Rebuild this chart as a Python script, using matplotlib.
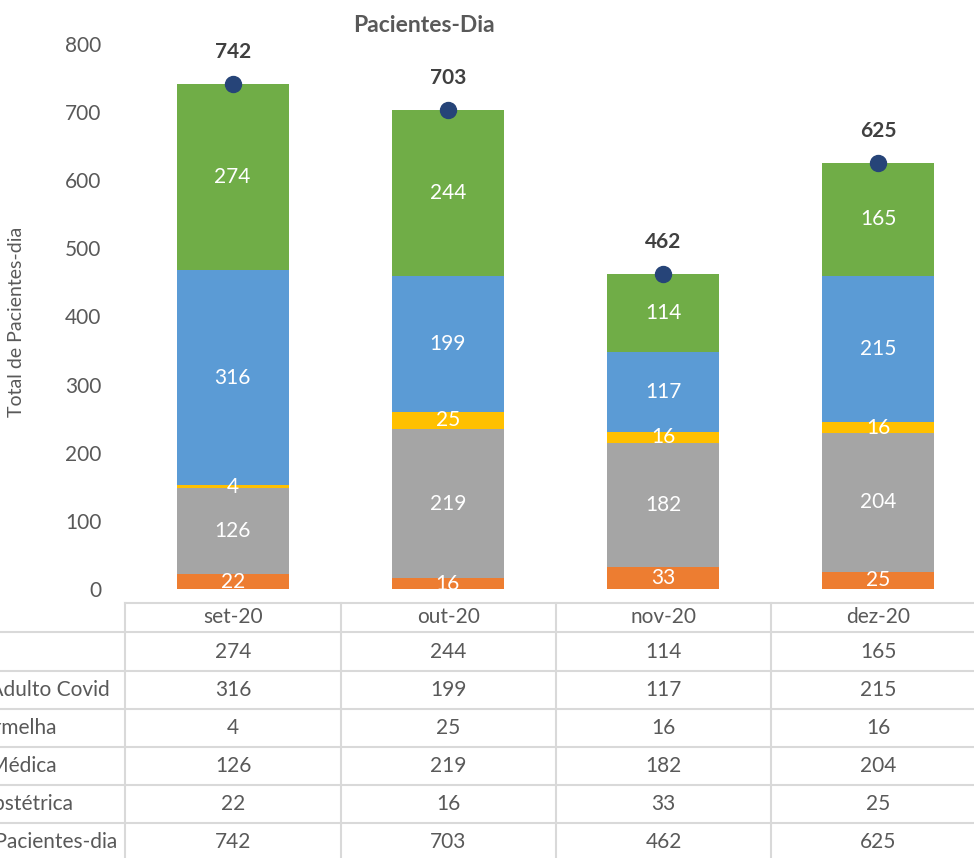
import numpy as np
import matplotlib.pyplot as plt
from matplotlib.lines import Line2D

# monthly patient-days by sector, stacked from bottom to top
months = ["set-20", "out-20", "nov-20", "dez-20"]
obstetrica = [22, 16, 33, 25]
medica = [126, 219, 182, 204]
vermelha = [4, 25, 16, 16]
enf_covid = [316, 199, 117, 215]
uti_covid = [274, 244, 114, 165]
totals = [742, 703, 462, 625]

series = [
    ("Clínica Obstétrica", obstetrica, "#ED7D31"),
    ("Clínica Médica", medica, "#A5A5A5"),
    ("Sala Vermelha", vermelha, "#FFC000"),
    ("Enfermaria Adulto Covid", enf_covid, "#5B9BD5"),
    ("UTI Covid", uti_covid, "#70AD47"),
]
row_labels = ["UTI Covid", "Enfermaria Adulto Covid", "Sala Vermelha",
              "Clínica Médica", "Clínica Obstétrica", "Total de Pacientes-dia"]
row_values = [uti_covid, enf_covid, vermelha, medica, obstetrica, totals]

plt.rcParams['font.family'] = ['Lato', 'DejaVu Sans']
txt = "#595959"
W, H = 974, 858

fig = plt.figure(figsize=(W / 100, H / 100), dpi=100)

def fx(px):
    return px / W

def fy(py):
    return 1 - py / H

# plot area spans the table columns (right column runs past the edge)
ax = fig.add_axes([fx(125), fy(589), fx(986) - fx(125), fy(44) - fy(589)])
x = np.arange(len(months))
bottom = np.zeros(len(months))
for name, vals, col in series:
    ax.bar(x, vals, 0.52, bottom=bottom, color=col, label=name)
    for xi, b, v in zip(x, bottom, vals):
        ax.text(xi, b + v / 2, str(v), ha="center", va="center",
                color="white", fontsize=15, clip_on=True)
    bottom += np.array(vals)

ax.plot(x, totals, "o", color="#264478", markersize=11.5, zorder=5)
for xi, t in zip(x, totals):
    ax.annotate(str(t), (xi, t), xytext=(0, 23), textcoords="offset points",
                ha="center", va="center", fontsize=15, fontweight="bold",
                color="#404040")

ax.set_xlim(-0.5, 3.5)
ax.set_ylim(0, 800)
ax.set_yticks(range(0, 801, 100))
ax.set_xticks([])
ax.tick_params(axis="y", length=0, pad=17, labelsize=15, labelcolor=txt)
for s in ax.spines.values():
    s.set_visible(False)

fig.text(fx(424), fy(25), "Pacientes-Dia", ha="center", va="center",
         fontsize=16.5, fontweight="bold", color=txt)
fig.text(fx(17), fy(322), "Total de Pacientes-dia", rotation=90,
         ha="center", va="center", fontsize=14, color=txt)

# data table below the plot
grid = "#D9D9D9"
col_edges = [125, 341, 556, 771, 986]
col_centers = [(a + b) / 2 for a, b in zip(col_edges[:-1], col_edges[1:])]
hlines = [632, 671, 709, 747, 785, 823, 861]

def line(x0, x1, y0, y1):
    fig.add_artist(Line2D([fx(x0), fx(x1)], [fy(y0), fy(y1)], color=grid, lw=1.5))

line(125, 990, 603, 603)
for yy in hlines:
    line(-5, 990, yy, yy)
for xx in col_edges:
    line(xx, xx, 603, 870)

for cx, m in zip(col_centers, months):
    fig.text(fx(cx), fy(617), m, ha="center", va="center", fontsize=15, color=txt)

# row labels: the chart is cropped on the left, so only their ends show
label_ends = [-8, 110, 57, 57, 73, 117]
row_centers = [(a + b) / 2 for a, b in zip(hlines[:-1], hlines[1:])]
for yc, lab, vals, xe in zip(row_centers, row_labels, row_values, label_ends):
    fig.text(fx(xe), fy(yc), lab, ha="right", va="center", fontsize=15, color=txt)
    for cx, v in zip(col_centers, vals):
        fig.text(fx(cx), fy(yc), str(v), ha="center", va="center",
                 fontsize=15, color=txt)

fig.savefig("out.png", dpi=100)
